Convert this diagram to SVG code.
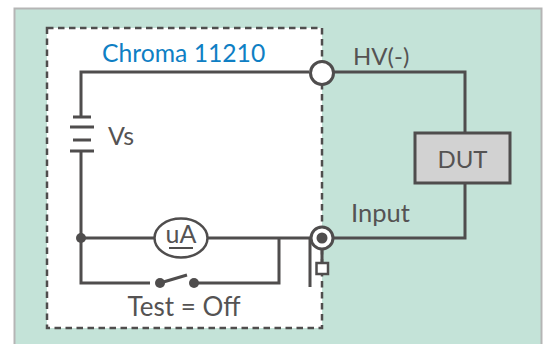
<svg xmlns="http://www.w3.org/2000/svg" width="548" height="344" viewBox="0 0 548 344">
<style>
.w{fill:none;stroke:#4f4d4d;stroke-width:3}
.t{font-family:Lato,"Open Sans",sans-serif;font-size:25px;fill:#555353}
.d{fill:#4f4d4d}
</style>
<rect x="0" y="0" width="548" height="344" fill="#fff"/>
<g id="panel"><rect x="14.5" y="8.5" width="527" height="340" fill="#c4e3d8" stroke="#b5b5b5" stroke-width="2"/></g>
<g id="box"><rect x="47" y="28" width="275" height="300" fill="#fff" stroke="#4f4d4d" stroke-width="2.5" stroke-dasharray="6.5 4.5"/></g>
<g id="connectors">
<path class="w" d="M309 72H81V117M81 151V238H155M207 238H310M81 238V283H150M195 283H279V238M334 72H465V133M465 182V238H334"/>
<path class="w" d="M73 117H91M70 127H94M73 140H91M70 151H94"/>
<path class="w" d="M160 283L187 275"/>
<path class="w" d="M310 238V287M322 250V264"/>
<circle class="d" cx="81" cy="238" r="5"/>
<circle class="d" cx="160" cy="283" r="5"/>
<circle class="d" cx="194" cy="283" r="5"/>
</g>
<g id="label-chroma"><text x="102" y="62" font-family="Lato,'Open Sans',sans-serif" font-size="24.700" fill="#0f7fc4">Chroma 11210</text></g>
<g id="label-vs"><text class="t" x="108" y="145">Vs</text></g>
<g id="hv"><circle cx="322" cy="73" r="11.500" fill="#fff" stroke="#4f4d4d" stroke-width="3"/></g>
<g id="hv-label"><text class="t" x="353" y="65" style="font-size:24px">HV(-)</text></g>
<g id="dut"><rect x="415" y="133" width="95" height="50" fill="#d2d2d2" stroke="#4f4d4d" stroke-width="3"/><text class="t" x="462.500" y="168" text-anchor="middle" style="font-size:24px">DUT</text></g>
<g id="input"><circle cx="322" cy="238" r="11" fill="#fff" stroke="#4f4d4d" stroke-width="3"/><circle class="d" cx="322" cy="238" r="5.500"/><rect x="316.500" y="263" width="11.500" height="11" fill="#fff" stroke="#4f4d4d" stroke-width="2.500"/></g>
<g id="input-label"><text class="t" x="351" y="222" style="font-size:25.500px">Input</text></g>
<g id="meter"><ellipse cx="181" cy="238" rx="26.500" ry="19.500" fill="#fff" stroke="#4f4d4d" stroke-width="2.500"/><text class="t" x="181" y="243" text-anchor="middle">uA</text><path class="w" d="M169 248H193" style="stroke-width:2"/></g>
<g id="test"><text class="t" x="184" y="316" text-anchor="middle" style="font-size:26px">Test = Off</text></g>
</svg>
